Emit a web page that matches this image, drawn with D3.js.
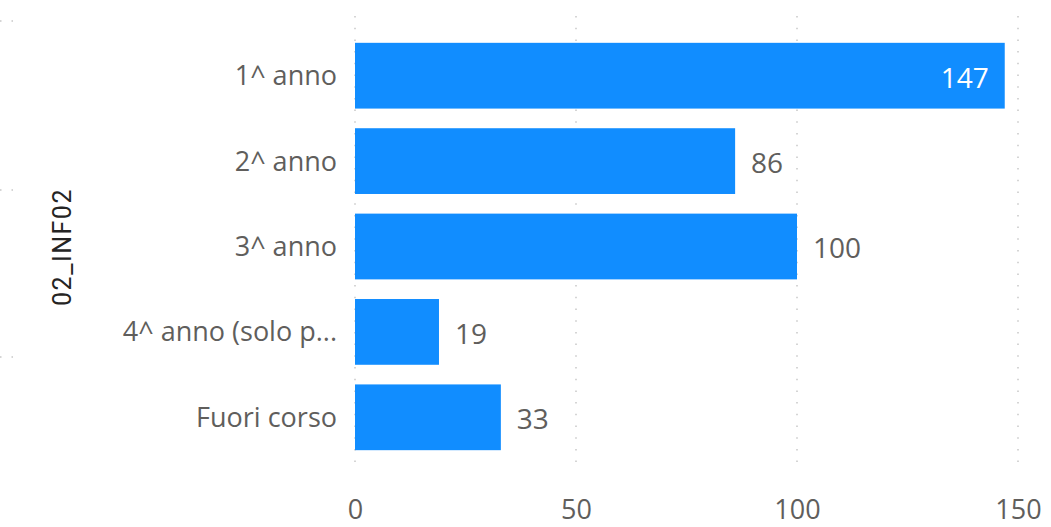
<!DOCTYPE html>
<html><head><meta charset="utf-8">
<script src="https://cdn.jsdelivr.net/npm/d3@7/dist/d3.min.js"></script>
<style>body{margin:0;background:#fff}svg{display:block}</style>
</head><body><svg id="c" width="1051" height="527"></svg>
<script>
const categories = ["1^ anno", "2^ anno", "3^ anno", "4^ anno (solo p...", "Fuori corso"];
const values = [147, 86, 100, 19, 33];
const tickValues = [0, 50, 100, 150];
const axisTitle = "02_INF02";

const svg = d3.select("#c");
const x = d3.scaleLinear().domain([0, 150]).range([355, 1018]);
const y = d3.scaleBand().domain(categories).range([33, 460]).paddingInner(0.23).paddingOuter(0.115);
const font = "'Open Sans', 'Noto Sans', sans-serif";

// left edge dotted stubs
[21, 190, 357].forEach(yy => {
  svg.append("line").attr("x1", 0).attr("x2", 14).attr("y1", yy).attr("y2", yy)
    .attr("stroke", "#c8c8c8").attr("stroke-width", 1.5).attr("stroke-dasharray", "1.5,10");
});

// gridlines
svg.append("g").selectAll("line").data(tickValues).join("line")
  .attr("x1", d => x(d)).attr("x2", d => x(d)).attr("y1", 16).attr("y2", 462)
  .attr("stroke", "#c8c8c8").attr("stroke-width", 1.5).attr("stroke-dasharray", "1.5,10.2");

// bars
svg.append("g").selectAll("rect").data(categories).join("rect")
  .attr("x", x(0)).attr("y", d => y(d)).attr("height", y.bandwidth())
  .attr("width", (d, i) => x(values[i]) - x(0)).attr("fill", "#118DFF");

// x axis
const xAxis = d3.axisBottom(x).tickValues(tickValues).tickSize(0).tickPadding(0);
const gx = svg.append("g").attr("transform", "translate(0,0)").call(xAxis);
gx.select(".domain").remove();
gx.selectAll("text").attr("font-family", font).attr("font-size", 27).attr("fill", "#605e5c")
  .attr("y", 519).attr("dy", 0);

// y axis
const yAxis = d3.axisLeft(y).tickSize(0).tickPadding(0);
const gy = svg.append("g").attr("transform", "translate(337,0)").call(yAxis);
gy.select(".domain").remove();
gy.selectAll("text").attr("font-family", font).attr("font-size", 27).attr("fill", "#605e5c").attr("dy", "0.35em");

// value labels
svg.append("g").selectAll("text").data(categories).join("text")
  .attr("x", (d, i) => values[i] > 120 ? x(values[i]) - 16 : x(values[i]) + 16)
  .attr("y", d => y(d) + y.bandwidth() / 2 + 2)
  .attr("dy", "0.35em")
  .attr("text-anchor", (d, i) => values[i] > 120 ? "end" : "start")
  .attr("font-family", font).attr("font-size", 28)
  .attr("fill", (d, i) => values[i] > 120 ? "#ffffff" : "#605e5c")
  .text((d, i) => values[i]);

// axis title
svg.append("text").attr("transform", "translate(62,247) rotate(-90)")
  .attr("text-anchor", "middle").attr("dy", "0.35em")
  .attr("font-family", "Roboto, sans-serif").attr("font-size", 25).attr("letter-spacing", 1.5)
  .attr("fill", "#252423")
  .text(axisTitle);
</script></body></html>
